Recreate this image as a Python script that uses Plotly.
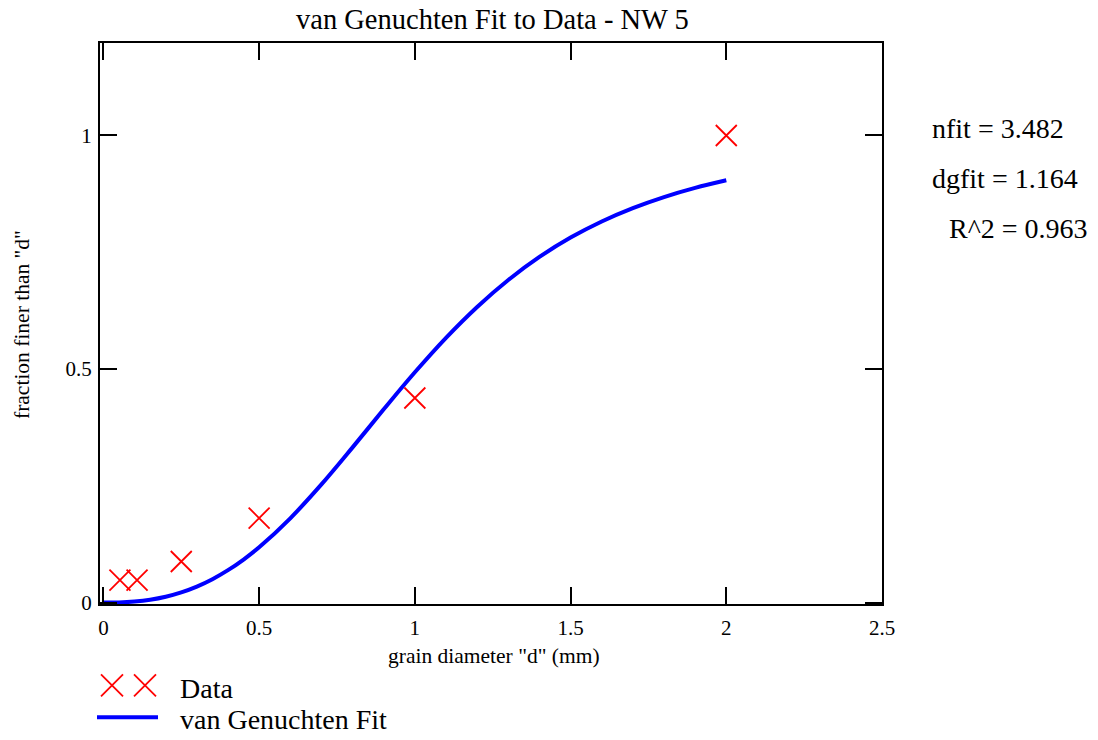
import plotly.graph_objects as go

# Measured grain-size data (sieve diameter in mm, fraction finer)
data_d = [0.053, 0.108, 0.25, 0.5, 1.0, 2.0]
data_frac = [0.048, 0.048, 0.088, 0.181, 0.438, 1.0]

# Fitted van Genuchten curve values
fit_d = [0.0, 0.05, 0.1, 0.15, 0.2, 0.25, 0.3, 0.35, 0.4, 0.45, 0.5, 0.6, 0.7, 0.8,
         0.9, 1.0, 1.1, 1.2, 1.3, 1.4, 1.5, 1.6, 1.7, 1.8, 1.9, 2.0]
fit_frac = [0.0, 0.0003, 0.0023, 0.0062, 0.0126, 0.0219, 0.0343, 0.0501, 0.0694,
            0.0922, 0.1184, 0.1805, 0.2530, 0.3323, 0.4137, 0.4930, 0.5668, 0.6330,
            0.6907, 0.7400, 0.7814, 0.8159, 0.8445, 0.8682, 0.8878, 0.9041]

x_ticks = [0, 0.5, 1, 1.5, 2, 2.5]
y_ticks = [0, 0.5, 1]

fit_stats = ["nfit = 3.482", "dgfit = 1.164", "R^2 = 0.963"]

W, H = 1098, 740
L, R, T, B = 100, 882, 42.5, 604.5
FONT = "Liberation Serif"


def px(x):
    return (x - L) / (R - L)


def py(y):
    return (B - y) / (B - T)


fig = go.Figure()

fig.add_trace(go.Scatter(
    x=fit_d, y=fit_frac, mode="lines", name="van Genuchten Fit",
    line=dict(color="#0000ff", width=4, shape="spline"), showlegend=False,
))
fig.add_trace(go.Scatter(
    x=data_d, y=data_frac, mode="markers", name="Data",
    marker=dict(symbol="x-thin", size=21, line=dict(color="#ff0000", width=1.8)),
    showlegend=False,
))

axis_common = dict(
    showline=True, linecolor="black", linewidth=2, mirror="ticks",
    ticks="inside", ticklen=17, tickwidth=2, tickcolor="black",
    showgrid=False, zeroline=False,
    tickfont=dict(family=FONT, size=21, color="black"),
)

fig.update_xaxes(range=[-0.011, 2.5], tickvals=x_ticks, ticklabelstandoff=4,
                 **axis_common)
fig.update_yaxes(range=[-0.003, 1.198], tickvals=y_ticks, ticklabelstandoff=2,
                 **axis_common)

annotations = [
    dict(text="van Genuchten Fit to Data - NW 5", x=px(492), y=py(19),
         font=dict(size=28.5)),
    dict(text='grain diameter "d" (mm)', x=px(494), y=py(657), font=dict(size=21.5)),
    dict(text='fraction finer than "d"', x=px(22), y=py(325), textangle=-90,
         font=dict(size=21.5)),
    dict(text="Data", x=px(178), y=py(689), xanchor="left", font=dict(size=28)),
    dict(text="van Genuchten Fit", x=px(178), y=py(720), xanchor="left",
         font=dict(size=28)),
]
stat_pos = [(930, 128), (930, 178), (947, 228)]
for txt, (sx, sy) in zip(fit_stats, stat_pos):
    annotations.append(dict(text=txt, x=px(sx), y=py(sy), xanchor="left",
                            font=dict(size=28)))

for a in annotations:
    a.setdefault("xanchor", "center")
    a.update(xref="paper", yref="paper", yanchor="middle", showarrow=False)
    a["font"] = dict(family=FONT, color="black", **a["font"])

# Legend glyphs: two crosses for the data, a thick line for the fit
shapes = []
for cx in (112, 145):
    cy, h = 686, 11
    for y0, y1 in ((cy - h, cy + h), (cy + h, cy - h)):
        shapes.append(dict(type="line", xref="paper", yref="paper",
                           x0=px(cx - h), x1=px(cx + h), y0=py(y0), y1=py(y1),
                           line=dict(color="#ff0000", width=1.8)))
shapes.append(dict(type="line", xref="paper", yref="paper",
                   x0=px(97), x1=px(158), y0=py(718), y1=py(718),
                   line=dict(color="#0000ff", width=4)))

fig.update_layout(
    width=W, height=H,
    margin=dict(l=L, r=W - R, t=T, b=H - B, autoexpand=False),
    paper_bgcolor="white", plot_bgcolor="white",
    annotations=annotations, shapes=shapes,
    showlegend=False,
)

fig.write_html("out.html")
